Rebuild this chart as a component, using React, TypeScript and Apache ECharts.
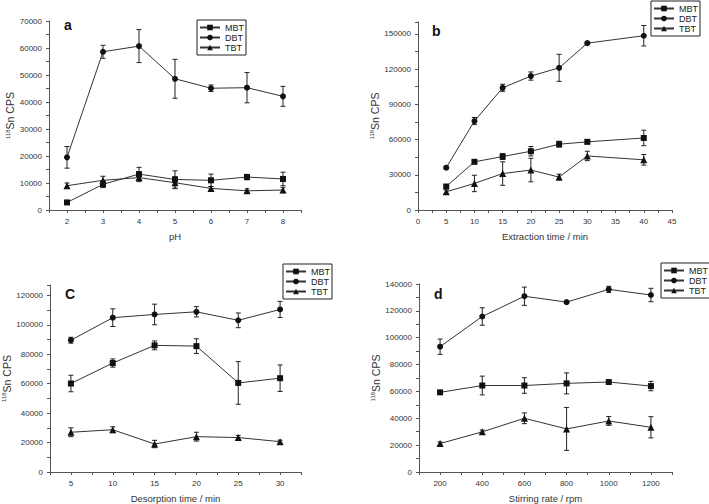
import React, { useEffect, useRef } from "react";
import * as echarts from "echarts";

// ---- data ----
const phX = [2, 3, 4, 5, 6, 7, 8];
const aMBT = [2800, 9500, 13300, 11300, 11000, 12200, 11500];
const aMBTErr = [300, 1200, 2500, 3200, 2300, 1000, 2500];
const aDBT = [19500, 58600, 60700, 48600, 45100, 45300, 42100];
const aDBTErr = [4000, 2400, 6100, 7200, 1200, 5600, 3700];
const aTBT = [9000, 11000, 12000, 10100, 8000, 7100, 7400];
const aTBTErr = [1000, 1500, 1500, 2200, 700, 700, 1000];

const extX = [5, 10, 15, 20, 25, 30, 40];
const bMBT = [20000, 41000, 45500, 50000, 56000, 58000, 61300];
const bMBTErr = [1500, 1500, 2500, 4000, 2500, 1500, 6600];
const bDBT = [36000, 75700, 104000, 114000, 121000, 142000, 148300];
const bDBTErr = [1000, 3000, 3000, 3500, 11500, 1000, 8700];
const bTBT = [15500, 22600, 31000, 34000, 28000, 46000, 42700];
const bTBTErr = [1500, 7000, 10000, 10000, 2500, 4000, 4500];

const desX = [5, 10, 15, 20, 25, 30];
const cMBT = [60100, 74000, 86000, 85500, 60500, 63700];
const cMBTErr = [5600, 2800, 3000, 5000, 14500, 9000];
const cDBT = [89500, 104800, 107000, 108800, 103000, 110400];
const cDBTErr = [2000, 6000, 7000, 3500, 5000, 5500];
const cTBT = [27000, 28700, 19000, 24000, 23400, 20600];
const cTBTErr = [3000, 2000, 2500, 3000, 1500, 1000];

const stirX = [200, 400, 600, 800, 1000, 1200];
const dMBT = [59300, 64400, 64400, 66000, 67000, 64000];
const dMBTErr = [800, 7000, 5800, 7800, 600, 3500];
const dDBT = [93300, 115800, 130900, 126500, 136000, 131800];
const dDBTErr = [5700, 6500, 6800, 500, 2300, 5000];
const dTBT = [21200, 29900, 40000, 32100, 38000, 33300];
const dTBTErr = [1200, 1300, 4000, 16000, 3300, 7900];

const seriesNames = ["MBT", "DBT", "TBT"];
const panelLabels = ["a", "b", "C", "d"];
const xNames = ["pH", "Extraction time / min", "Desorption time / min", "Stirring rate / rpm"];

const FONT = "Liberation Sans, Arial, sans-serif";

export default function App() {
  const ref = useRef<HTMLDivElement>(null);
  useEffect(() => {
    if (!ref.current) return;
    const chart = echarts.init(ref.current, undefined, { renderer: "svg" });

    const grids = [
      { left: 49, top: 21, width: 252, height: 189 },
      { left: 418, top: 22, width: 254, height: 188 },
      { left: 49, top: 285, width: 252, height: 188 },
      { left: 419, top: 284, width: 253, height: 189 },
    ];

    const xCfg = [
      { min: 1.5, max: 8.5, interval: 0.5, label: 1 },
      { min: 0, max: 45, interval: 2.5, label: 5 },
      { min: 2.5, max: 32.5, interval: 2.5, label: 5 },
      { min: 100, max: 1300, interval: 100, label: 200 },
    ];
    const yCfg = [
      { min: 0, max: 70000, interval: 5000, label: 10000, gap: 32 },
      { min: 0, max: 160000, interval: 15000, label: 30000, gap: 35 },
      { min: 0, max: 127000, interval: 10000, label: 20000, gap: 38 },
      { min: 0, max: 140000, interval: 10000, label: 20000, gap: 37 },
    ];

    const isMult = (v: number, s: number) => Math.abs(v / s - Math.round(v / s)) < 1e-6;

    const axisCommon = {
      axisLine: { lineStyle: { color: "#555", width: 1 } },
      axisTick: { length: 3, lineStyle: { color: "#555" } },
      splitLine: { show: false },
    };

    const xAxis = xCfg.map((c, i) => ({
      type: "value",
      gridIndex: i,
      min: c.min,
      max: c.max,
      interval: c.interval,
      ...axisCommon,
      axisLabel: {
        fontSize: 8,
        color: "#333",
        fontFamily: FONT,
        margin: 7,
        showMinLabel: true,
        showMaxLabel: true,
        formatter: (v: number) => (isMult(v, c.label) ? String(v) : ""),
      },
      name: xNames[i],
      nameLocation: "middle",
      nameGap: 21,
      nameTextStyle: { fontSize: 9.5, color: "#333", fontFamily: FONT, verticalAlign: "top" },
    }));

    const yAxis = yCfg.map((c, i) => ({
      type: "value",
      gridIndex: i,
      min: c.min,
      max: c.max,
      interval: c.interval,
      ...axisCommon,
      axisLabel: {
        fontSize: 8,
        color: "#333",
        fontFamily: FONT,
        margin: 7,
        formatter: (v: number) => (isMult(v, c.label) ? String(v) : ""),
      },
      name: "{s|118}Sn CPS",
      nameLocation: "middle",
      nameGap: c.gap,
      nameRotate: 90,
      nameTextStyle: {
        fontSize: 10.5,
        color: "#333",
        fontFamily: FONT,
        rich: {
          s: { fontSize: 6, color: "#333", fontFamily: FONT, verticalAlign: "top", padding: [0, 0, 5, 0] },
        },
      },
    }));

    const panels = [
      { x: phX, d: [[aMBT, aMBTErr], [aDBT, aDBTErr], [aTBT, aTBTErr]] },
      { x: extX, d: [[bMBT, bMBTErr], [bDBT, bDBTErr], [bTBT, bTBTErr]] },
      { x: desX, d: [[cMBT, cMBTErr], [cDBT, cDBTErr], [cTBT, cTBTErr]] },
      { x: stirX, d: [[dMBT, dMBTErr], [dDBT, dDBTErr], [dTBT, dTBTErr]] },
    ];
    const symbols = ["rect", "circle", "triangle"];
    const sizes = [6, 6, 7];

    const series: any[] = [];
    panels.forEach((p, gi) => {
      p.d.forEach(([vals, errs], si) => {
        series.push({
          type: "custom",
          name: seriesNames[si] + " err",
          xAxisIndex: gi,
          yAxisIndex: gi,
          z: 1,
          silent: true,
          clip: false,
          encode: { x: 0, y: 1 },
          data: p.x.map((xv, k) => [xv, vals[k], errs[k]]),
          renderItem: (params: any, api: any) => {
            const x = api.value(0);
            const y = api.value(1);
            const e = api.value(2);
            const p1 = api.coord([x, y + e]);
            const p2 = api.coord([x, y - e]);
            const w = 2.5;
            const style = { stroke: "#222", lineWidth: 1 };
            return {
              type: "group",
              children: [
                { type: "line", shape: { x1: p1[0], y1: p1[1], x2: p2[0], y2: p2[1] }, style },
                { type: "line", shape: { x1: p1[0] - w, y1: p1[1], x2: p1[0] + w, y2: p1[1] }, style },
                { type: "line", shape: { x1: p2[0] - w, y1: p2[1], x2: p2[0] + w, y2: p2[1] }, style },
              ],
            };
          },
        });
        series.push({
          type: "line",
          name: seriesNames[si],
          xAxisIndex: gi,
          yAxisIndex: gi,
          z: 3,
          symbol: symbols[si],
          symbolSize: sizes[si],
          showAllSymbol: true,
          itemStyle: { color: "#111" },
          lineStyle: { color: "#333", width: 1 },
          data: p.x.map((xv, k) => [xv, vals[k]]),
        });
      });
    });

    // legend positions (top-left of the framed box)
    const legendPos = [
      [197, 20],
      [651, 1],
      [283, 264],
      [661, 263],
    ];
    const legend = legendPos.map((b) => ({
      left: b[0],
      top: b[1],
      orient: "vertical",
      data: seriesNames,
      itemWidth: 20,
      itemHeight: 7,
      itemGap: 1,
      padding: [3, 2, 3, 2],
      borderColor: "#222",
      borderWidth: 1,
      selectedMode: false,
      textStyle: { fontSize: 9, color: "#222", fontFamily: FONT },
    }));

    const labelPos = [
      [64, 18],
      [432, 24],
      [65, 287],
      [434, 287],
    ];
    const elements: any[] = panelLabels.map((t, i) => ({
      type: "text",
      left: labelPos[i][0],
      top: labelPos[i][1],
      style: { text: t, fontSize: 14, fontWeight: "bold", fill: "#111", fontFamily: FONT },
    }));

    chart.setOption({
      animation: false,
      grid: grids,
      xAxis,
      yAxis,
      legend,
      series,
      graphic: { elements },
    } as any);

    return () => chart.dispose();
  }, []);

  return (
    <div
      ref={ref}
      style={{ position: "absolute", left: 0, top: 0, width: 709, height: 504, background: "#fff" }}
    />
  );
}
